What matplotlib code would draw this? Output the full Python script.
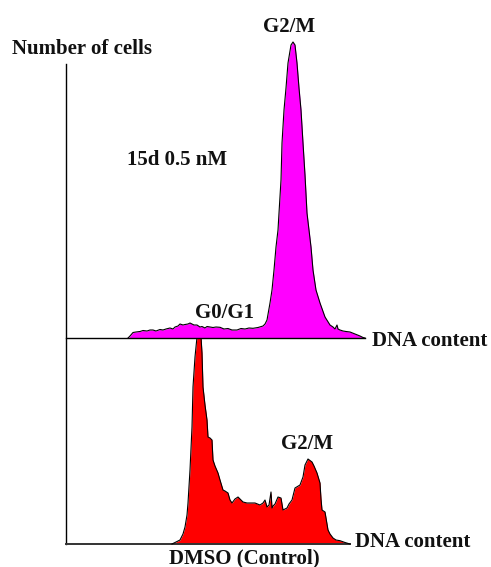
import matplotlib
matplotlib.use("Agg")
import matplotlib.pyplot as plt

# Flow-cytometry DNA histograms (channel, cell count)
treated_channel = [124, 128, 134, 140, 148, 154, 162, 168, 174, 180,
                   188, 194, 200, 208, 214, 218, 224, 228, 234, 238,
                   244, 248, 252, 256, 262, 268, 272, 278, 282, 288,
                   294, 300, 308, 316, 324, 332, 342, 350, 358, 366,
                   374, 384, 394, 398, 402, 408, 412, 416, 420, 424,
                   426, 430, 432, 436, 440, 444, 450, 454, 458, 462,
                   466, 470, 474, 478, 482, 486, 490, 494, 500, 508,
                   518, 528, 534, 538, 542, 544, 548, 554, 560, 568,
                   578, 588, 594, 598]
treated_count = [0, 2, 5.5, 6, 6.5, 7.5, 7, 8, 8, 7,
                 8.5, 8, 9, 10, 9, 11, 12, 14, 13, 13.5,
                 14, 15, 14, 13, 13, 11, 11.5, 10, 11.5, 11,
                 10.5, 11, 10.7, 9, 9.5, 8, 8, 9.5, 9, 10,
                 9.7, 10.5, 12, 14, 18, 35, 48, 68, 91, 108,
                 125, 158, 195, 228, 250, 275, 293, 296, 293, 275,
                 250, 228, 195, 163, 125, 108, 91, 68, 48, 35,
                 21, 13, 11, 9, 13, 9, 8, 7, 6.5, 6,
                 4, 2, 0.5, 0]

control_channel = [212, 220, 228, 234, 238, 242, 244, 248, 252, 254,
                   258, 262, 264, 266, 270, 272, 274, 278, 282, 284,
                   288, 292, 294, 298, 304, 308, 314, 318, 324, 328,
                   332, 338, 344, 350, 354, 362, 368, 378, 388, 394,
                   398, 402, 406, 410, 412, 414, 418, 424, 430, 434,
                   442, 446, 452, 458, 468, 474, 478, 484, 492, 496,
                   502, 508, 510, 512, 518, 524, 528, 534, 540, 548,
                   558, 568]
control_count = [0, 2, 4, 10, 17, 29, 41, 74, 117, 157,
                 187, 207, 214, 214, 207, 191, 157, 139, 124, 107,
                 106, 104, 84, 78, 71, 64, 54, 53, 51, 44,
                 41, 45, 47, 44, 42, 41, 41, 41, 39, 41,
                 44, 37, 39, 52, 36, 38, 40, 47, 46, 34,
                 36, 40, 44, 56, 59, 67, 79, 85, 82, 78,
                 71, 61, 45, 34, 32, 14, 10, 6, 4, 3.3,
                 1.5, 0]

W, H = 491, 567
fig = plt.figure(figsize=(W / 100, H / 100), dpi=100)
fig.patch.set_facecolor("white")


def frac(x0, y_top, x1, y_bot):
    return [x0 / W, 1 - y_bot / H, (x1 - x0) / W, (y_bot - y_top) / H]


# lower panel: control, owns the shared vertical axis line
ax_ctrl = fig.add_axes(frac(66, 64, 350, 544))
ax_ctrl.set_xlim(0, 568)
ax_ctrl.set_ylim(0, 480)
ax_ctrl.fill_between(control_channel, control_count, 0, color="#ff0000",
                     linewidth=0, clip_on=False, zorder=2)
ax_ctrl.plot(control_channel, control_count, color="black", lw=0.8,
             clip_on=False, zorder=3)
for s in ("top", "right"):
    ax_ctrl.spines[s].set_visible(False)
ax_ctrl.spines["left"].set_linewidth(1.0)
ax_ctrl.spines["bottom"].set_linewidth(1.4)
ax_ctrl.spines["bottom"].set_color("#333333")
ax_ctrl.set_xticks([])
ax_ctrl.set_yticks([])
ax_ctrl.patch.set_visible(False)

# upper panel: treated
ax_trt = fig.add_axes(frac(66, 66, 365, 338))
ax_trt.set_xlim(0, 598)
ax_trt.set_ylim(0, 272)
ax_trt.fill_between(treated_channel, treated_count, 0, color="#ff00ff",
                    linewidth=0, clip_on=False, zorder=2)
ax_trt.plot(treated_channel, treated_count, color="black", lw=0.8,
            clip_on=False, zorder=3)
for s in ("top", "right", "left"):
    ax_trt.spines[s].set_visible(False)
ax_trt.spines["bottom"].set_linewidth(1.0)
ax_trt.set_xticks([])
ax_trt.set_yticks([])
ax_trt.patch.set_visible(False)

font = dict(family=["Liberation Serif", "DejaVu Serif"], fontweight="bold",
            fontsize=15, color="#111111")


def label(x, y, s, ha="left"):
    fig.text(x / W, 1 - y / H, s, ha=ha, va="baseline", **font)


label(12, 54, "Number of cells")
label(289, 32, "G2/M", ha="center")
label(127, 165, "15d 0.5 nM")
label(224, 318, "G0/G1", ha="center")
label(372, 346, "DNA content")
label(307, 449, "G2/M", ha="center")
label(355, 547, "DNA content")
label(244, 563, "DMSO (Control)", ha="center")

fig.savefig("out.png", dpi=100, facecolor="white")
